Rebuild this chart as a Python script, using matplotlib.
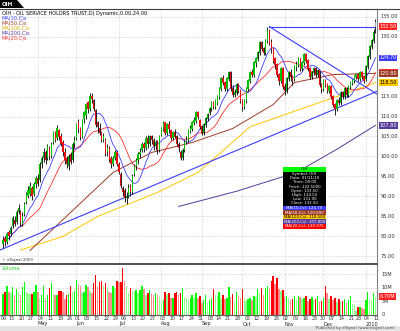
import matplotlib
matplotlib.use("Agg")
import matplotlib.pyplot as plt
import matplotlib.transforms as mtrans
import numpy as np
import pandas as pd
from matplotlib.patches import Polygon, Rectangle

W, H = 400, 331

# trading days shown on the chart
HOLIDAYS = ["2009-04-10", "2009-05-25", "2009-07-03", "2009-09-07",
            "2009-11-26", "2009-12-25", "2010-01-01"]
dates = pd.bdate_range("2009-04-06", "2010-01-11")
dates = dates[~dates.isin(pd.to_datetime(HOLIDAYS))]

# daily OHLC (one line per week)
open_ = [
    78, 79.5, 78.5, 81,
    80.5, 82.5, 84, 83.5, 86,
    86, 83, 85.5, 88.5, 90,
    90.5, 92, 90.5, 93, 94.5,
    94, 98, 99.5, 101, 99.5,
    102, 100, 103.5, 106, 104.5,
    106.5, 105, 103.5, 101, 99.5,
    97.5, 100.5, 99, 103,
    104.5, 108.5, 107, 105, 109.5,
    110.5, 113.5, 112, 115, 114,
    111.5, 108.5, 107, 106, 104,
    104, 101, 102, 99.5, 98,
    99.5, 101, 98, 95.5,
    92, 91.5, 89.5, 90, 92.5,
    91, 95.5, 97.5, 99, 100.5,
    101.5, 103, 102, 104.5, 103,
    105, 104, 102.5, 103.5, 101.5,
    105.5, 107, 108.5, 106, 108,
    106.5, 104.5, 106, 105, 103,
    101, 99.5, 101.5, 103.5, 104,
    106.5, 107, 108.5, 109, 111,
    109, 107.5, 106, 108, 109.5,
    111, 112, 113.5, 112.5,
    113.5, 115, 117, 119.5, 118.5,
    117, 119.5, 121, 117, 115.5,
    116, 118, 116.5, 114, 112.5,
    114, 117, 119, 121, 120.5,
    123.5, 124.5, 126, 128.5, 127,
    126, 129, 131.5, 128.5, 127,
    124.5, 123, 120.5, 119, 122,
    117.5, 116.5, 119.5, 121, 120,
    119.5, 122.5, 123, 124.5, 122,
    123.5, 125.5, 124, 122, 120,
    121, 122, 120.5, 121.5,
    118, 117, 119, 118, 116.5,
    117.5, 115, 113, 112, 114,
    113.5, 116, 115, 117, 115.5,
    117.5, 118.5, 119, 120,
    120.5, 119.5, 121, 120,
    119.5, 122.5, 125, 127.5, 129,
    133.5,
]
high = [
    80, 80, 81, 81.5,
    82.5, 85, 85, 86.5, 88,
    86.5, 86, 88.5, 91, 92.5,
    93.5, 92.5, 93.5, 95, 95.5,
    98.5, 100, 102, 101.5, 103,
    102.5, 103.5, 106.5, 106.5, 108,
    107, 106, 104, 102, 100,
    100.5, 101, 103.5, 105,
    108.5, 109.5, 107.5, 109.5, 111.5,
    113.5, 114, 116, 116, 114.5,
    112, 109, 108.5, 106.5, 106,
    104.5, 103, 102.5, 100, 100,
    101.5, 101.5, 98.5, 96,
    92.5, 92, 91, 93, 93,
    95.5, 98, 99.5, 101, 102,
    103.5, 103.5, 105, 105.5, 105.5,
    105.5, 104.5, 104, 104, 105.5,
    107.5, 109, 108.5, 108.5, 109,
    107, 106.5, 107, 105.5, 103.5,
    101.5, 102, 104, 105, 107,
    108, 109, 110, 111.5, 111.5,
    109.5, 108, 108.5, 110, 111,
    112.5, 114, 114, 114.5,
    115.5, 117.5, 120, 120.5, 119,
    120, 121.5, 121.5, 118, 117,
    118.5, 118.5, 117, 114.5, 114.5,
    117.5, 119.5, 121.5, 122, 124,
    125, 126.5, 129, 129, 127.5,
    129.5, 132.5, 132, 129.5, 127.5,
    125, 123.5, 121, 122.5, 122.5,
    118.5, 120, 121.5, 122, 120.5,
    123, 124, 125, 124.5, 124,
    126, 126, 124.5, 122.5, 121.5,
    122.5, 122.5, 122, 121.5,
    118.5, 119.5, 119.5, 118.5, 118,
    118, 115.5, 113.5, 114.5, 115,
    116.5, 116.5, 117.5, 117.5, 118,
    119, 119.5, 120.5, 121,
    121, 121.5, 121.5, 120.5,
    123, 125.5, 128, 129.5, 132,
    134.5,
]
low = [
    77, 77.5, 78, 79,
    80, 82, 82.5, 83, 85.5,
    82.5, 82.5, 85, 88, 89.5,
    90, 89, 90, 92, 92.5,
    93.5, 97, 98.5, 98, 99,
    99, 99.5, 103, 103.5, 104,
    104, 102.5, 100, 98, 97,
    96.5, 98, 98.5, 102,
    104, 106, 104, 104.5, 108.5,
    109.5, 111, 111.5, 113.5, 111.5,
    107.5, 106, 105.5, 103.5, 103.5,
    100, 100, 98.5, 97, 97.5,
    99, 97.5, 95.5, 92,
    90, 88.5, 88, 89.5, 90,
    90.5, 95, 96.5, 98, 99.5,
    101, 101, 101.5, 102, 102.5,
    103, 101.5, 101.5, 100.5, 101,
    105, 106.5, 105.5, 105.5, 106,
    104, 104, 104.5, 102.5, 101,
    99, 99, 101, 103, 103.5,
    106, 106.5, 108, 108.5, 109.5,
    107, 105.5, 105.5, 107.5, 109,
    110.5, 111.5, 112, 112,
    113, 114.5, 116.5, 118, 116.5,
    116.5, 119, 116.5, 115, 115,
    115.5, 116, 113.5, 111.5, 112,
    113.5, 116.5, 118.5, 120, 120,
    122.5, 124, 125.5, 126.5, 125.5,
    125.5, 128.5, 128, 126, 123.5,
    122, 120, 118, 118.5, 117,
    115.5, 116, 119, 119, 118,
    119, 121.5, 122.5, 121.5, 121.5,
    123, 123.5, 121.5, 119.5, 119.5,
    120.5, 120, 120, 117.5,
    116, 116.5, 117.5, 116, 116,
    114.5, 112.5, 110.5, 111.5, 113,
    113, 114.5, 114.5, 115, 115,
    117, 118, 118.5, 119.5,
    119, 119, 119.5, 118.5,
    119, 122, 124.5, 127, 128.5,
    131,
]
close = [
    79, 78.5, 80.5, 80,
    82, 84.5, 83, 86, 87,
    83.5, 85, 88, 90.5, 91.5,
    92.5, 90, 93, 94.5, 93,
    98, 99.5, 101, 99, 102.5,
    100, 103, 106, 104, 107,
    105, 103, 101, 99, 98,
    100, 98.5, 103, 104,
    108, 107, 105, 109, 111,
    113, 112, 115, 114.5, 112,
    108, 107.5, 106, 104, 105,
    100.5, 102, 99, 98, 99.5,
    101, 98, 96, 92.5,
    91, 89.5, 90, 92, 91,
    95, 97.5, 99, 100.5, 101,
    103, 102, 104.5, 103, 105,
    104, 102.5, 103.5, 101.5, 105,
    107, 108.5, 106, 108, 107,
    104.5, 106, 105, 103, 102,
    99.5, 101.5, 103.5, 104, 106.5,
    107, 108.5, 109, 111, 110,
    107.5, 106, 108, 109.5, 110.5,
    112, 113.5, 112.5, 114,
    115, 117, 119.5, 118.5, 117,
    119.5, 121, 117, 115.5, 116,
    118, 116.5, 114, 112.5, 114,
    117, 119, 121, 120.5, 123.5,
    124.5, 126, 128.5, 127, 126,
    129, 131.5, 128.5, 127, 124,
    123, 120.5, 119, 122, 117.5,
    116.5, 119.5, 121, 120, 119,
    122.5, 123, 124.5, 122, 123.5,
    125.5, 124, 122, 120, 121,
    122, 120.5, 121.5, 118,
    117, 119, 118, 116.5, 117.5,
    115, 113, 112, 114, 113.5,
    116, 115, 117, 115.5, 117.5,
    118.5, 119, 120, 120.5,
    119.5, 121, 120, 119,
    122.5, 125, 127.5, 129, 131,
    132.5,
]
# volume in millions of shares
volume = [
    7.6, 8.5, 10.6, 8.3, 7.9, 10.4, 7.3, 9.5, 8.3, 7.3,
    10.4, 12, 8.3, 7.9, 7.6, 7.6, 8.3, 11, 8.5, 6.1,
    7.3, 10.7, 6.1, 7.3, 9.8, 11.6, 7.6, 7.3, 7.3, 8.8,
    8.8, 8.5, 5.9, 7.3, 7.6, 10.7, 8.5, 8.8, 12.8, 11.2,
    10.7, 7.9, 8.3, 11, 10.4, 8.8, 7.9, 11.6, 14.6, 10.4,
    12, 12.4, 10.7, 11.6, 9.8, 8.3, 7.9, 10.7, 9.8, 12.4,
    12, 12.2, 17.3, 12.4, 10.7, 7.9, 9.8, 8.8, 8.5, 9.1,
    7.9, 9.1, 10.7, 9.5, 7.3, 7.9, 9.1, 7.6, 7.3, 7.9,
    7.3, 6.7, 4.9, 5.5, 8.3, 7.6, 7.9, 6.1, 6.1, 7.9,
    8.3, 7.3, 7.9, 9.8, 6.7, 6.1, 5.5, 6.3,
    7.3, 6.7, 7.9, 6.1,
    6.8, 4.5, 5.5, 7.5, 4.5,
    5.5, 6.3, 9.5, 7.2,
    6.8, 8.6, 6.2, 7.3, 5.8,
    6.4, 10.2, 6.5, 7.8, 5.2,
    8.6, 6.8, 6.3, 9.5, 6.1,
    5.2, 5.8, 6.2, 5.4, 7.1,
    6.6, 9.6, 8.0, 10.0, 7.5,
    9.8, 10.5, 9.4, 12.3, 14.2,
    11.5, 13.4, 9.6, 8.7, 9.3,
    6.5, 7.0, 6.2, 5.4, 5.9,
    6.8, 5.6, 7.0, 6.6, 5.9,
    6.2, 6.8, 5.2, 6.0, 6.5,
    5.6, 5.9, 6.8, 4.8,
    5.3, 6.4, 10.7, 8.0, 6.0,
    6.9, 5.5, 6.4, 4.8, 5.7,
    4.6, 5.2, 6.0, 4.3, 5.5,
    6.8, 4.2, 3.8, 1.6,
    2.8, 2.9, 2.7, 2.2,
    5.5, 8.6, 6.0, 5.4, 7.9,
    6.7,
]

# slow moving averages (no history before April on the chart)
ma50_dates = ["2009-04-27", "2009-05-27", "2009-06-26", "2009-07-27", "2009-08-25",
              "2009-09-24", "2009-10-23", "2009-11-09", "2009-12-08", "2010-01-11"]
ma50 = [76.5, 86, 96, 101, 103.5, 107, 113, 118.5, 120.5, 120.8]
ma100_dates = ["2009-04-20", "2009-05-20", "2009-06-16", "2009-07-30", "2009-08-28",
               "2009-10-07", "2009-11-10", "2009-12-10", "2010-01-11"]
ma100 = [76.6, 80, 85, 91, 96, 107.4, 111.5, 115, 118.5]
ma200_dates = ["2009-08-14", "2009-09-28", "2009-11-10", "2009-12-10", "2010-01-11"]
ma200 = [87.5, 91.3, 96, 101.8, 107.8]

# trend lines drawn by hand on the chart: (date, price) pairs
trend_up = [("2009-04-03", 76.6), ("2010-01-12", 116.3)]
trend_down = [("2009-10-21", 132.5), ("2010-01-12", 115.6)]
trend_flat = [("2009-10-21", 132.5), ("2010-01-11", 132.5)]

BLUE = "#3c3cff"
RED = "#ff3030"
BROWN = "#9c3c28"
GOLD = "#ffc800"
PURPLE = "#553a99"
GRIDC = "#b4b4b4"


def idx(d):
    return dates.get_indexer(pd.to_datetime([d]), method="nearest")[0]


def fy(py):
    return 1 - py / H


def main():
    n = len(close)
    assert len(dates) == n == len(open_) == len(high) == len(low) == len(volume)
    x = np.arange(n)
    xlim = (-1.6, n - 0.2)
    o, h, l, c = (np.asarray(a, float) for a in (open_, high, low, close))
    v = np.asarray(volume, float) * 1e6

    fig = plt.figure(figsize=(W / 100, H / 100), dpi=100)
    fig.patch.set_facecolor("white")

    axp = fig.add_axes([0, fy(264), 377 / W, (264 - 9) / H])
    axv = fig.add_axes([0, fy(315), 377 / W, (315 - 265) / H])

    month_starts = [i for i in range(1, n) if dates[i].month != dates[i - 1].month]
    week_starts = [i for i in range(n) if i == 0 or dates[i].weekday() < dates[i - 1].weekday()]

    for ax in (axp, axv):
        ax.set_xlim(*xlim)
        ax.set_xticks(month_starts)
        ax.tick_params(length=0, labelleft=False, labelbottom=False)
        ax.grid(True, ls=(0, (1, 2)), color=GRIDC, lw=0.5)
        ax.set_axisbelow(True)
        for s in ("left", "top"):
            ax.spines[s].set_visible(False)
        ax.spines["right"].set_color("#808080")
        ax.spines["right"].set_linewidth(0.8)
        ax.spines["bottom"].set_color("#606060")

    # ---- price panel ----
    axp.set_ylim(73.1, 136.9)
    axp.set_yticks(range(75, 140, 5))
    axp.spines["bottom"].set_linewidth(1.4)
    axp.spines["bottom"].set_color("#505050")

    ma10 = pd.Series(c).rolling(10, min_periods=1).mean().to_numpy()
    ma20 = pd.Series(c).rolling(20, min_periods=1).mean().to_numpy()
    i50 = [idx(d) for d in ma50_dates]
    i100 = [idx(d) for d in ma100_dates]
    i200 = [idx(d) for d in ma200_dates]

    axp.plot(i200, ma200, color=PURPLE, lw=0.7, zorder=2)
    axp.plot(i100, ma100, color=GOLD, lw=0.7, zorder=2)
    axp.plot(i50, ma50, color=BROWN, lw=0.7, zorder=2)
    axp.plot(x, ma20, color=RED, lw=0.6, zorder=2)
    axp.plot(x, ma10, color=BLUE, lw=0.6, zorder=2)

    for seg in (trend_up, trend_down, trend_flat):
        xs = []
        for d, _ in seg:
            if d > "2010-01-11":
                xs.append(n - 0.2)
            elif d < "2009-04-06":
                xs.append(-1.6)
            else:
                xs.append(idx(d))
        axp.plot(xs, [p for _, p in seg], color=BLUE, lw=0.8, zorder=2)

    # candle bodies: green / red when the day agrees with the previous close, grey otherwise
    prev = np.r_[c[0], c[:-1]]
    body = np.where((c > o) & (c >= prev), "#00c000",
                    np.where((c < o) & (c <= prev), "#e81010", "#a8a8a8"))
    axp.vlines(x, l, h, color="black", lw=0.6, zorder=3)
    axp.bar(x, np.abs(c - o) + 0.2, bottom=np.minimum(o, c), width=0.7,
            color=body, linewidth=0, zorder=4)

    # price scale on the right
    ytr = axp.get_yaxis_transform()
    for p in range(75, 140, 5):
        if p in (120, 125):
            continue
        axp.text(1.009, p, f"{p:.2f}", transform=ytr, fontsize=3.6,
                 va="center", ha="left", color="#303030", clip_on=False)
    boxes = [(c[-1], "#ff2020"), (ma10[-1], BLUE), (ma20[-1], RED),
             (ma50[-1], BROWN), (ma100[-1], GOLD), (ma200[-1], PURPLE)]
    for val, col in boxes:
        tc = "black" if col == GOLD else "white"
        axp.text(1.006, val, f"{val:.2f}", transform=ytr, fontsize=3.6,
                 va="center", ha="left", color=tc, clip_on=False,
                 bbox=dict(boxstyle="square,pad=0.15", fc=col, ec="none"))

    # title and legend
    axp.text(0.005, 0.992, "OIH - OIL SERVICE HOLDRS TRUST,D) Dynamic,0.00,24.00",
             transform=axp.transAxes, fontsize=3.6, va="top", color="black")
    leg = [("MA(10,C)s", BLUE), ("MA(50,C)s", BROWN), ("MA(100,C)s", "#e0a800"),
           ("MA(200,C)s", PURPLE), ("MA(20,C)s", RED)]
    for k, (t, col) in enumerate(leg):
        axp.text(0.005, 0.972 - k * 0.0196, t, transform=axp.transAxes,
                 fontsize=3.6, va="top", color=col)
    axp.text(0.005, 0.006, "\u00a9 eSignal 2009", transform=axp.transAxes,
             fontsize=2.8, va="bottom", color="#303030")

    # data window box
    bx0, by0, bw = 283, 167, 43
    rows = ["Symbol: OIH", "Date: 01/11/10", "Time: 00:00", f"Fetch: {c[-1]:.4f}",
            f"Open: {o[-1]:.2f}", f"High: {h[-1]:.2f}", f"Low: {l[-1]:.2f}",
            f"Close: {c[-1]:.2f}"]
    fig.patches.append(Rectangle((bx0 / W, fy(by0 + 5)), bw / W, 5 / H,
                                 transform=fig.transFigure, fc="#00ff00", ec="none"))
    fig.text((bx0 + bw / 2) / W, fy(by0 + 2.5), "OIH", fontsize=3, ha="center",
             va="center", color="black")
    fig.patches.append(Rectangle((bx0 / W, fy(by0 + 5 + 8 * 4.2)), bw / W, 8 * 4.2 / H,
                                 transform=fig.transFigure, fc="black", ec="none"))
    for k, t in enumerate(rows):
        fig.text((bx0 + bw / 2) / W, fy(by0 + 7 + k * 4.2), t, fontsize=2.8,
                 ha="center", va="center", color="white")
    mrows = [(f"MA(10,Cs): {ma10[-1]:.2f}", BLUE), (f"MA(50,Cs): {ma50[-1]:.3f}", BROWN),
             (f"MA(100,Cs): {ma100[-1]:.3f}", GOLD), (f"MA(200,Cs): {ma200[-1]:.3f}", PURPLE),
             (f"MA(20,Cs): {ma20[-1]:.3f}", "#ff0000")]
    ty = by0 + 5 + 8 * 4.2
    for k, (t, col) in enumerate(mrows):
        fig.patches.append(Rectangle((bx0 / W, fy(ty + (k + 1) * 4.6)), bw / W, 4.6 / H,
                                     transform=fig.transFigure, fc=col, ec="none"))
        fig.text((bx0 + bw / 2) / W, fy(ty + (k + 0.5) * 4.6), t, fontsize=2.8,
                 ha="center", va="center", color="black" if col == GOLD else "white")

    # ---- volume panel ----
    axv.set_ylim(0, 18.3e6)
    axv.set_yticks([5e6, 10e6, 15e6])
    dc = np.r_[0, np.diff(c)]
    dv = np.r_[0, np.diff(v)]
    vcol = np.where(dc >= 0, np.where(dv >= 0, "#00ff00", "#90ff90"),
                    np.where(dv >= 0, "#ff0000", "#ff8c8c"))
    axv.bar(x, v, width=0.75, color=vcol, linewidth=0, zorder=3)
    vtr = axv.get_yaxis_transform()
    for val, t in ((15e6, "15M"), (10e6, "10M"), (5e6, "5M"), (0, "0")):
        axv.text(1.012, val, t, transform=vtr, fontsize=3.6, va="center",
                 ha="left", color="#303030", clip_on=False)
    axv.text(1.006, v[-1], f"{v[-1] / 1e6:.2f}M", transform=vtr, fontsize=3.6,
             va="center", ha="left", color="white", clip_on=False,
             bbox=dict(boxstyle="square,pad=0.15", fc="#ff2020", ec="none"))
    axv.text(0.005, 0.98, "Volume", transform=axv.transAxes, fontsize=3.6,
             va="top", color="#20d020")

    # date labels under the volume panel
    btr = mtrans.blended_transform_factory(axv.transData, fig.transFigure)
    for i in week_starts:
        axv.text(i - 1, fy(318.5), f"{dates[i].day:02d}", fontsize=3.4, ha="left",
                 va="center", color="#303030", transform=btr, clip_on=False)
    for i in month_starts:
        lab = str(dates[i].year) if dates[i].month == 1 else dates[i].strftime("%b")
        axv.text(i, fy(324), lab, fontsize=3.6, ha="left", va="center",
                 color="#202020", transform=btr, clip_on=False)

    # window chrome: tab and footer
    fig.patches.append(Polygon([(0, fy(0)), (17 / W, fy(0)), (24 / W, fy(8)), (0, fy(8))],
                               closed=True, transform=fig.transFigure, fc="black", ec="none"))
    fig.text(2 / W, fy(4.3), "OIH", fontsize=4, fontweight="bold", color="white",
             va="center", ha="left")
    fig.lines.append(plt.Line2D([0, 1], [fy(8.5), fy(8.5)], transform=fig.transFigure,
                                color="#404040", lw=0.8))
    fig.patches.append(Rectangle((0, 0), 1, 5 / H, transform=fig.transFigure,
                                 fc="#e4e4e4", ec="none"))
    fig.text(395 / W, fy(328.5), "Published by eSignal (www.esignal.com)", fontsize=2.8,
             ha="right", va="center", color="#404040")

    fig.savefig("out.png", dpi=100)


if __name__ == "__main__":
    main()
